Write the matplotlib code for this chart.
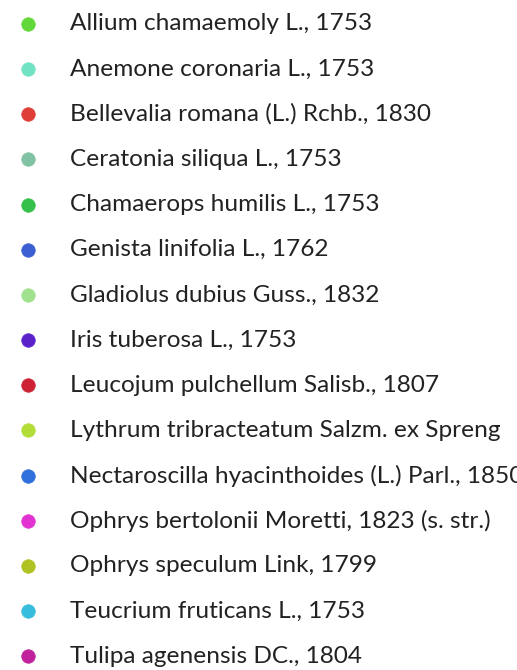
import matplotlib
matplotlib.use("Agg")
import matplotlib.pyplot as plt

species = [
    "Allium chamaemoly L., 1753",
    "Anemone coronaria L., 1753",
    "Bellevalia romana (L.) Rchb., 1830",
    "Ceratonia siliqua L., 1753",
    "Chamaerops humilis L., 1753",
    "Genista linifolia L., 1762",
    "Gladiolus dubius Guss., 1832",
    "Iris tuberosa L., 1753",
    "Leucojum pulchellum Salisb., 1807",
    "Lythrum tribracteatum Salzm. ex Spreng",
    "Nectaroscilla hyacinthoides (L.) Parl., 1850",
    "Ophrys bertolonii Moretti, 1823 (s. str.)",
    "Ophrys speculum Link, 1799",
    "Teucrium fruticans L., 1753",
    "Tulipa agenensis DC., 1804",
]
colors = [
    "#62d83a", "#72e2c4", "#de3d38", "#82c2a4", "#35c04c",
    "#3b5fd2", "#a2e28e", "#5a22c8", "#cc2234", "#b2dc36",
    "#2f70dc", "#e232d2", "#b0c222", "#36bcdc", "#c0229c",
]

fig = plt.figure(figsize=(5.17, 6.70), dpi=100)
ax = fig.add_axes([0, 0, 1, 1])
ax.set_xlim(0, 517)
ax.set_ylim(670, 0)
ax.axis("off")

y0, dy = 24, 45.15
for i, (name, c) in enumerate(zip(species, colors)):
    y = y0 + i * dy
    ax.scatter([28], [y], s=95, color=c, edgecolors=c, linewidths=0.5, zorder=3)
    ax.text(70, y, name, fontsize=17.6, family=["Lato", "DejaVu Sans"],
            color="#222222", va="center", ha="left")

fig.savefig("out.png", dpi=100)
